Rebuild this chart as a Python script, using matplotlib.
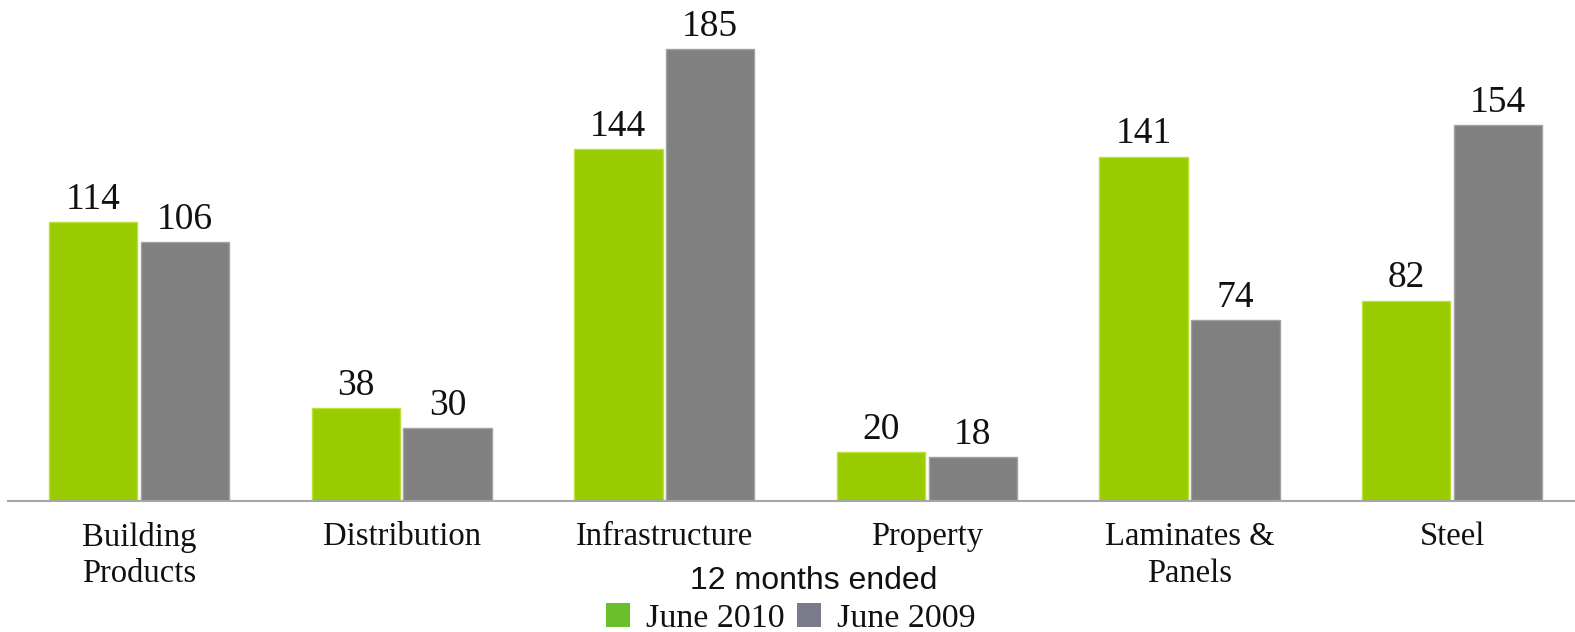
import matplotlib
matplotlib.use("Agg")
import matplotlib.pyplot as plt
from matplotlib.patches import Patch
from matplotlib.font_manager import FontProperties
import numpy as np

categories = ["Building\nProducts", "Distribution", "Infrastructure", "Property", "Laminates &\nPanels", "Steel"]
june_2010 = [114, 38, 144, 20, 141, 82]
june_2009 = [106, 30, 185, 18, 74, 154]
series_labels = ["June 2010", "June 2009"]
legend_title = "12 months ended"

W, H = 1575, 632
fig = plt.figure(figsize=(W / 100, H / 100), dpi=100)
ax = fig.add_axes([7.8 / W, (H - 501) / H, 1 - 7.8 / W, (501 - 12.4) / H])

x = np.arange(len(categories))
bw = 0.3366
off = 0.175
b1 = ax.bar(x - off, june_2010, bw, color="#99cc00", edgecolor="#b8e23a", linewidth=1.0)
b2 = ax.bar(x + off, june_2009, bw, color="#808080", edgecolor="#a2a2a2", linewidth=1.0)

serif = "Liberation Serif"
for bars, vals in ((b1, june_2010), (b2, june_2009)):
    for r, v in zip(bars, vals):
        ax.annotate(str(v), (r.get_x() + r.get_width() / 2, r.get_height()),
                    xytext=(0, 9.5), textcoords="offset points",
                    ha="center", va="baseline", fontsize=27, family=serif, color="#111111")

ax.set_xlim(-0.5, 5.468)
ax.set_ylim(0, 200)
for s in ("top", "right", "left"):
    ax.spines[s].set_visible(False)
ax.spines["bottom"].set_color("#a6a6a6")
ax.spines["bottom"].set_linewidth(1.5)
ax.set_yticks([])
ax.set_xticks(x)
ax.set_xticklabels(categories, fontsize=23.5, family=serif, linespacing=1.25, color="#111111")
ax.tick_params(axis="x", length=0, pad=15)

fig.text(813.6 / W, 1 - 581 / H, legend_title, ha="center", va="center",
         family="Liberation Sans", fontsize=23, color="#111111")

handles = [Patch(facecolor="#6abf2a", edgecolor="none"), Patch(facecolor="#7b7a8a", edgecolor="none")]
leg = fig.legend(handles, series_labels, loc="center", bbox_to_anchor=(791 / W, 1 - 618.5 / H),
                 ncol=2, frameon=False,
                 prop=FontProperties(family=serif, size=24.5),
                 handlelength=0.7, handleheight=0.7, handletextpad=0.47,
                 columnspacing=0.36, borderpad=0, borderaxespad=0)
for t in leg.get_texts():
    t.set_color("#111111")

fig.savefig("out.png", dpi=100)
